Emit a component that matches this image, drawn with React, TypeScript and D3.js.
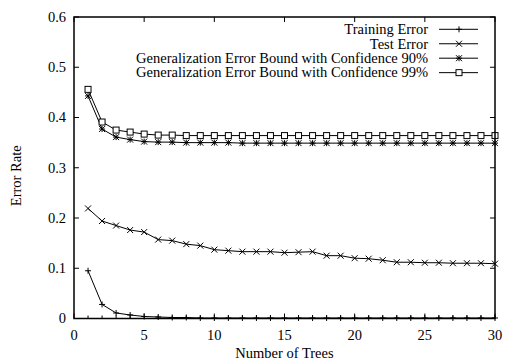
import React from "react";
import * as d3 from "d3";

const trees = d3.range(1, 31);
const trainingError = [0.095, 0.028, 0.011, 0.007, 0.004, 0.003, 0.002, 0.002, 0.001, 0.001, 0.001, 0.001, 0.001, 0.001, 0.001, 0.001, 0.001, 0.001, 0.001, 0.001, 0.001, 0.001, 0.001, 0.001, 0.001, 0.001, 0.001, 0.001, 0.001, 0.001];
const testError = [0.219, 0.194, 0.185, 0.176, 0.172, 0.157, 0.155, 0.148, 0.145, 0.137, 0.135, 0.133, 0.133, 0.133, 0.131, 0.132, 0.133, 0.125, 0.125, 0.120, 0.119, 0.116, 0.112, 0.112, 0.111, 0.111, 0.110, 0.110, 0.110, 0.109];
const bound90 = [0.443, 0.377, 0.361, 0.356, 0.352, 0.351, 0.351, 0.350, 0.350, 0.350, 0.350, 0.349, 0.349, 0.349, 0.349, 0.349, 0.349, 0.349, 0.349, 0.349, 0.349, 0.349, 0.349, 0.349, 0.349, 0.349, 0.349, 0.349, 0.349, 0.349];
const bound99 = [0.456, 0.391, 0.375, 0.371, 0.367, 0.365, 0.365, 0.364, 0.364, 0.364, 0.364, 0.364, 0.364, 0.364, 0.364, 0.364, 0.364, 0.364, 0.364, 0.364, 0.364, 0.364, 0.364, 0.364, 0.364, 0.364, 0.364, 0.364, 0.364, 0.364];
const seriesNames = [
  "Training Error",
  "Test Error",
  "Generalization Error Bound with Confidence 90%",
  "Generalization Error Bound with Confidence 99%",
];
const markerTypes = ["plus", "cross", "star", "square"];
const xTicks = [0, 5, 10, 15, 20, 25, 30];
const yTicks = [0, 0.1, 0.2, 0.3, 0.4, 0.5, 0.6];
const yTickLabels = ["0", "0.1", "0.2", "0.3", "0.4", "0.5", "0.6"];
const xLabel = "Number of Trees";
const yLabel = "Error Rate";

const W = 505;
const H = 360;
const left = 74;
const right = 495;
const top = 17;
const bottom = 318.5;
const font = "Liberation Serif";

function Marker({ type, x, y }: { type: string; x: number; y: number }) {
  const s = 3;
  const st = { stroke: "#000", strokeWidth: 1, fill: "none" };
  if (type === "plus")
    return <path d={`M${x - s},${y}H${x + s}M${x},${y - s}V${y + s}`} {...st} />;
  if (type === "cross")
    return <path d={`M${x - s},${y - s}L${x + s},${y + s}M${x - s},${y + s}L${x + s},${y - s}`} {...st} />;
  if (type === "star")
    return (
      <path
        d={`M${x - s},${y}H${x + s}M${x},${y - s}V${y + s}M${x - s},${y - s}L${x + s},${y + s}M${x - s},${y + s}L${x + s},${y - s}`}
        {...st}
      />
    );
  return <rect x={x - s} y={y - s} width={2 * s} height={2 * s} {...st} fill="#fff" />;
}

export default function App() {
  const x = d3.scaleLinear().domain([0, 30]).range([left, right]);
  const y = d3.scaleLinear().domain([0, 0.6]).range([bottom, top]);
  const allSeries = [trainingError, testError, bound90, bound99];
  const line = d3
    .line<number>()
    .x((_, i) => x(trees[i]))
    .y((d) => y(d));
  const minor = d3.range(0, 31).filter((v) => v % 5 !== 0);
  const legendX = 428;
  const legendY0 = 29.3;
  const legendDy = 14.45;
  const fs = 14.5;

  return (
    <svg
      width={W}
      height={H}
      style={{ position: "absolute", left: 0, top: 0, background: "#fff", fontFamily: font }}
    >
      <rect x={0} y={0} width={W} height={H} fill="#fff" />
      {yTicks.map((t) => (
        <g key={"y" + t}>
          <line x1={left} x2={left + 5} y1={y(t)} y2={y(t)} stroke="#000" />
          <line x1={right} x2={right - 5} y1={y(t)} y2={y(t)} stroke="#000" />
        </g>
      ))}
      {xTicks.map((t) => (
        <g key={"x" + t}>
          <line x1={x(t)} x2={x(t)} y1={bottom} y2={bottom - 5} stroke="#000" />
          <line x1={x(t)} x2={x(t)} y1={top} y2={top + 5} stroke="#000" />
        </g>
      ))}
      {minor.map((t) => (
        <line key={"m" + t} x1={x(t)} x2={x(t)} y1={bottom} y2={bottom - 3} stroke="#000" />
      ))}
      {allSeries.map((s, k) => (
        <g key={"s" + k}>
          <path d={line(s) || ""} fill="none" stroke="#000" strokeWidth={1} />
          {s.map((v, i) => (
            <Marker key={i} type={markerTypes[k]} x={x(trees[i])} y={y(v)} />
          ))}
        </g>
      ))}
      <rect x={left} y={top} width={right - left} height={bottom - top} fill="none" stroke="#000" strokeWidth={1.5} />
      {yTicks.map((t, i) => (
        <text key={"yl" + t} x={66} y={y(t)} dy="0.33em" textAnchor="end" fontSize={fs}>
          {yTickLabels[i]}
        </text>
      ))}
      {xTicks.map((t) => (
        <text key={"xl" + t} x={x(t)} y={340} textAnchor="middle" fontSize={fs}>
          {t}
        </text>
      ))}
      <text x={(left + right) / 2} y={358} textAnchor="middle" fontSize={fs}>
        {xLabel}
      </text>
      <text transform={`translate(21,${(top + bottom) / 2 + 8}) rotate(-90)`} textAnchor="middle" fontSize={fs}>
        {yLabel}
      </text>
      {seriesNames.map((n, k) => {
        const ly = legendY0 + k * legendDy;
        return (
          <g key={"l" + k}>
            <text x={legendX} y={ly} dy="0.33em" textAnchor="end" fontSize={fs}>
              {n}
            </text>
            <line x1={439} x2={478} y1={ly} y2={ly} stroke="#000" />
            <Marker type={markerTypes[k]} x={459} y={ly} />
          </g>
        );
      })}
    </svg>
  );
}
